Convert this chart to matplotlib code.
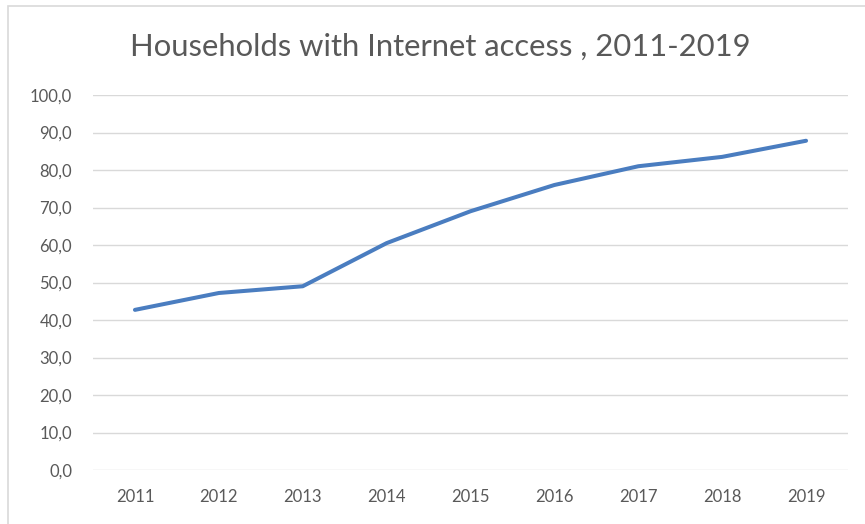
import matplotlib
matplotlib.use("Agg")
import matplotlib.pyplot as plt
from matplotlib.patches import Rectangle

years = ["2011", "2012", "2013", "2014", "2015", "2016", "2017", "2018", "2019"]
share = [42.7, 47.2, 49.0, 60.5, 69.0, 76.0, 81.0, 83.5, 87.8]
y_ticks = [0, 10, 20, 30, 40, 50, 60, 70, 80, 90, 100]
title = "Households with Internet access , 2011-2019"

plt.rcParams['font.family'] = ['Lato', 'DejaVu Sans']

W, H = 865, 524
fig = plt.figure(figsize=(W / 100, H / 100), dpi=100)
fig.patch.set_facecolor("white")

# chart border
fig.patches.append(Rectangle((8 / W, -0.05), 1.2, 1 - 6 / H + 0.05,
                             transform=fig.transFigure, fill=False,
                             edgecolor="#d9d9d9", linewidth=1.2))

ax = fig.add_axes([93 / W, 1 - 470 / H, (848 - 93) / W, (470 - 95) / H])
x = list(range(len(years)))
ax.plot(x, share, color="#4A7DC0", linewidth=2.9, solid_capstyle="round",
        solid_joinstyle="round")

ax.set_xlim(-0.5, len(years) - 0.5)
ax.set_ylim(0, 100)
ax.set_yticks(y_ticks)
ax.set_yticklabels([f"{v:.1f}".replace(".", ",") for v in y_ticks])
ax.set_xticks(x)
ax.set_xticklabels(years)

ax.grid(axis="y", color="#d9d9d9", linewidth=1.0)
ax.set_axisbelow(True)
for s in ax.spines.values():
    s.set_visible(False)
ax.tick_params(axis="both", length=0, labelsize=12, colors="#595959")
ax.tick_params(axis="y", pad=15)
ax.tick_params(axis="x", pad=14)

fig.text(440 / W, 1 - 47 / H, title, ha="center", va="center",
         fontsize=22.3, color="#595959")

fig.savefig("out.png", dpi=100)
